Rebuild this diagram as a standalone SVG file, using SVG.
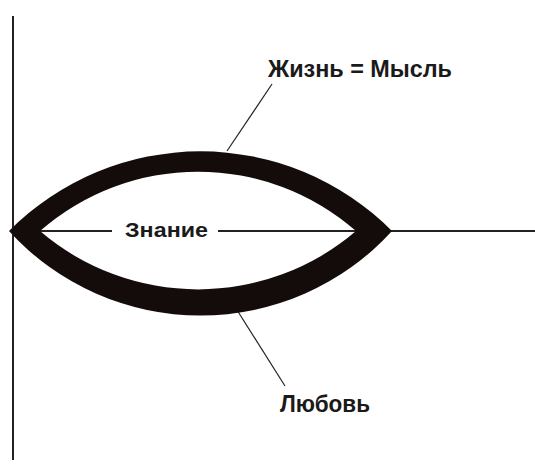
<svg xmlns="http://www.w3.org/2000/svg" width="535" height="467" viewBox="0 0 535 467">
<style>
.ax{stroke:#222;stroke-width:2;fill:none}
.ld{stroke:#222;stroke-width:1.2;fill:none}
.t{font-family:"Liberation Sans",Arial,sans-serif;font-weight:bold;fill:#1a1a1a}
</style>
<rect width="535" height="467" fill="#fff"/>
<g id="connectors">
<line class="ax" x1="13" y1="16" x2="13" y2="460"/>
<line class="ax" x1="13" y1="231" x2="112" y2="231"/>
<line class="ax" x1="218" y1="231" x2="535" y2="231"/>
<line class="ld" x1="272" y1="84" x2="227" y2="151"/>
<line class="ld" x1="237" y1="310" x2="285" y2="386"/>
</g>
<g id="lens">
<path fill="#140c0a" fill-rule="evenodd" d="M9,231 A270 270 0 0 1 392,231 A259 259 0 0 1 9,231 Z M40,231 A243 243 0 0 0 356,231 A240 240 0 0 0 40,231 Z"/>
</g>
<g id="label-life">
<text class="t" x="268" y="77" font-size="24" textLength="184" lengthAdjust="spacingAndGlyphs">Жизнь = Мысль</text>
</g>
<g id="label-knowledge">
<text class="t" x="125" y="237" font-size="21" textLength="83" lengthAdjust="spacingAndGlyphs">Знание</text>
</g>
<g id="label-love">
<text class="t" x="280" y="412" font-size="23" textLength="90" lengthAdjust="spacingAndGlyphs">Любовь</text>
</g>
</svg>
